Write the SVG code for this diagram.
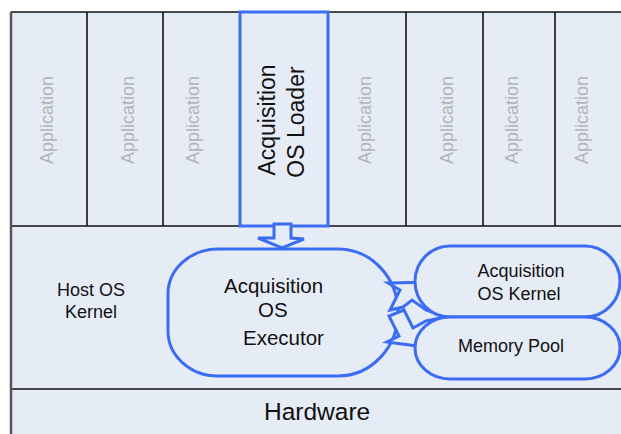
<svg xmlns="http://www.w3.org/2000/svg" width="621" height="434" viewBox="0 0 621 434">
<style>
.bg{fill:#e6ecf6}
.ln{stroke:#111;stroke-width:1.6;fill:none}
.app{font-family:"Liberation Sans",Arial,sans-serif;font-size:18px;fill:#b4b4b4;text-anchor:middle;dominant-baseline:central}
.t{font-family:"Liberation Sans",Arial,sans-serif;fill:#111}
.blue{stroke:#3b6cf4;stroke-width:3;fill:#e6ecf6;stroke-linejoin:miter}
</style>
<rect x="0" y="0" width="621" height="434" fill="#ffffff"/>
<rect class="bg" x="11" y="12" width="610" height="422"/>
<g id="apps">
<line class="ln" x1="11" y1="12" x2="621" y2="12"/>
<line class="ln" x1="87" y1="12" x2="87" y2="226"/>
<line class="ln" x1="163" y1="12" x2="163" y2="226"/>
<line class="ln" x1="406" y1="12" x2="406" y2="226"/>
<line class="ln" x1="483" y1="12" x2="483" y2="226"/>
<line class="ln" x1="555" y1="12" x2="555" y2="226"/>
<text class="app" transform="translate(47,120) rotate(-90)">Application</text>
<text class="app" transform="translate(128,120) rotate(-90)">Application</text>
<text class="app" transform="translate(193,120) rotate(-90)">Application</text>
<text class="app" transform="translate(365,120) rotate(-90)">Application</text>
<text class="app" transform="translate(447,120) rotate(-90)">Application</text>
<text class="app" transform="translate(512,120) rotate(-90)">Application</text>
<text class="app" transform="translate(582,120) rotate(-90)">Application</text>
</g>
<g id="layers">
<line class="ln" x1="11" y1="226" x2="621" y2="226"/>
<line class="ln" x1="11" y1="389" x2="621" y2="389"/>
<line x1="11" y1="12" x2="11" y2="434" stroke="#555" stroke-width="2.5"/>
</g>
<g id="host-kernel">
<text class="t" font-size="18" text-anchor="middle" x="91" y="296">Host OS</text>
<text class="t" font-size="18" text-anchor="middle" x="91" y="318">Kernel</text>
</g>
<g id="hardware">
<text class="t" font-size="24.5" x="264" y="420">Hardware</text>
</g>
<g id="loader">
<rect class="blue" x="240" y="12" width="88" height="214"/>
<text class="t" font-size="23" text-anchor="middle" dominant-baseline="central" transform="translate(267,120) rotate(-90)">Acquisition</text>
<text class="t" font-size="23" text-anchor="middle" dominant-baseline="central" transform="translate(296,122) rotate(-90)">OS Loader</text>
</g>
<g id="executor">
<path class="blue" d="M218,249 L338,249 A60,63.5 0 0 1 338,376 L218,376 A50,45 0 0 1 168,331 L168,294 A50,45 0 0 1 218,249 Z"/>
<text class="t" font-size="20.5" x="224" y="293">Acquisition</text>
<text class="t" font-size="20.5" x="258" y="317">OS</text>
<text class="t" font-size="20.5" x="243" y="345">Executor</text>
</g>
<g id="connectors">
<polygon class="blue" points="274,224 274,238 258,238 282,248 304,239 291,238 291,224"/>
<polygon class="blue" points="388,283 440,282 440,315 426,310 412,300 403,307 390,310 400,290"/>
<polygon class="blue" points="387,342 440,349 440,318 426,321 413,328 404,310 389,316 399,336"/>
</g>
<g id="kernel">
<rect class="blue" x="415" y="246" width="205" height="71" rx="35" ry="35.5"/>
<text class="t" font-size="18" text-anchor="middle" x="521" y="277">Acquisition</text>
<text class="t" font-size="18" text-anchor="middle" x="519" y="300">OS Kernel</text>
</g>
<g id="memory-pool">
<rect class="blue" x="415" y="317" width="205" height="62" rx="35" ry="31"/>
<text class="t" font-size="18" text-anchor="middle" x="511" y="352">Memory Pool</text>
</g>
</svg>
